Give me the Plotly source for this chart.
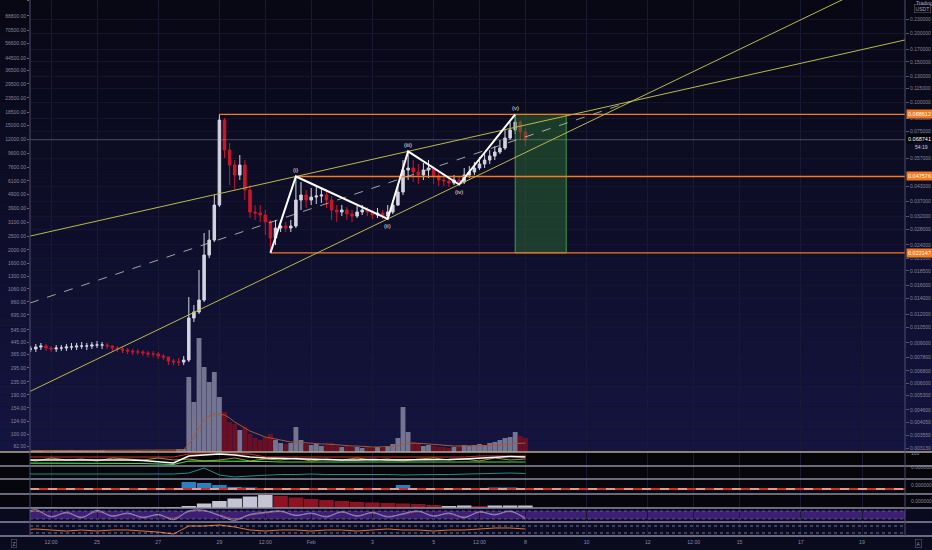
import numpy as np
import pandas as pd
import plotly.graph_objects as go

# ---------------- data ----------------
candle_start = "2021-01-22 20:00"   # 4h candles

close = [0.00846, 0.00863, 0.00871, 0.00854, 0.00846, 0.00854, 0.00854, 0.00863, 0.00863, 0.00871,
         0.00871, 0.00871, 0.00880, 0.00880, 0.00880, 0.00871, 0.00854, 0.00846, 0.00837, 0.00829,
         0.00821, 0.00821, 0.00812, 0.00804, 0.00804, 0.00788, 0.00780, 0.00750, 0.00742, 0.00742,
         0.00757, 0.01153, 0.01225, 0.01381, 0.02167, 0.02518, 0.03575, 0.08371, 0.06201, 0.05336,
         0.04828, 0.05336, 0.04154, 0.03334, 0.03300, 0.03235, 0.03016, 0.02569, 0.02840, 0.02897,
         0.02840, 0.02897, 0.03758, 0.03951, 0.03758, 0.03873, 0.03912, 0.03951, 0.03758, 0.03401,
         0.03334, 0.03401, 0.03267, 0.03203, 0.03334, 0.03401, 0.03334, 0.03235, 0.03300, 0.03203,
         0.03334, 0.03575, 0.04072, 0.05076, 0.05178, 0.04975, 0.04828, 0.05076, 0.05178, 0.04780,
         0.04592, 0.04546, 0.04456, 0.04592, 0.04501, 0.04828, 0.04975, 0.05178, 0.05390, 0.05610,
         0.05840, 0.06078, 0.06326, 0.06992, 0.07575, 0.08205, 0.07425, 0.068741]

high = [0.00871, 0.00889, 0.00898, 0.00889, 0.00871, 0.00880, 0.00880, 0.00889, 0.00898, 0.00898,
        0.00907, 0.00898, 0.00907, 0.00916, 0.00907, 0.00898, 0.00880, 0.00871, 0.00863, 0.00854,
        0.00846, 0.00846, 0.00837, 0.00829, 0.00829, 0.00821, 0.00804, 0.00780, 0.00765, 0.00773,
        0.00788, 0.01423, 0.01314, 0.01865, 0.02701, 0.02783, 0.03951, 0.088612, 0.08541, 0.06651,
        0.05610, 0.05898, 0.05610, 0.04367, 0.03575, 0.03575, 0.03401, 0.03077, 0.03077, 0.03077,
        0.03016, 0.03077, 0.047576, 0.04501, 0.04154, 0.04238, 0.04324, 0.04238, 0.04154, 0.03912,
        0.03575, 0.03575, 0.03505, 0.03401, 0.03540, 0.03575, 0.03505, 0.03401, 0.03470, 0.03401,
        0.03575, 0.03758, 0.04367, 0.05610, 0.06140, 0.05610, 0.05390, 0.05444, 0.05610, 0.05283,
        0.04975, 0.04828, 0.04780, 0.04828, 0.04780, 0.05178, 0.05283, 0.05499, 0.05781, 0.05958,
        0.06201, 0.06454, 0.06854, 0.07575, 0.08205, 0.088612, 0.08371, 0.07728]

low = [0.00821, 0.00821, 0.00837, 0.00829, 0.00821, 0.00821, 0.00829, 0.00829, 0.00837, 0.00837,
       0.00846, 0.00837, 0.00846, 0.00854, 0.00846, 0.00846, 0.00829, 0.00821, 0.00812, 0.00804,
       0.00796, 0.00796, 0.00788, 0.00780, 0.00780, 0.00765, 0.00757, 0.00720, 0.00720, 0.00713,
       0.00720, 0.00742, 0.01108, 0.01201, 0.01353, 0.02103, 0.02468, 0.03505, 0.05724, 0.04367,
       0.04154, 0.04592, 0.03758, 0.03140, 0.03077, 0.03016, 0.02647, 0.022147, 0.02395, 0.02728,
       0.02728, 0.02728, 0.02840, 0.03401, 0.03470, 0.03575, 0.03611, 0.03648, 0.03470, 0.03077,
       0.03016, 0.03203, 0.03077, 0.03016, 0.03140, 0.03235, 0.03203, 0.03108, 0.03140, 0.03108,
       0.03108, 0.03267, 0.03540, 0.03951, 0.04592, 0.04501, 0.04411, 0.04592, 0.04685, 0.04411,
       0.04324, 0.04324, 0.04281, 0.04367, 0.04390, 0.04411, 0.04685, 0.04828, 0.05076, 0.05178,
       0.05390, 0.05610, 0.05958, 0.06201, 0.06854, 0.07278, 0.06854, 0.06454]

volume = [1, 1, 1, 2, 1, 1, 1, 1, 2, 1, 1, 1, 1, 1, 2, 1, 1, 1, 1, 1, 2, 1, 1, 1, 1, 2, 1, 2, 2, 3, 3,
          75, 50, 114, 85, 70, 80, 55, 40, 30, 28,
          22, 25, 18, 14, 12, 15, 18, 12, 9, 8,
          9, 25, 12, 8, 7, 8, 6, 7, 9, 6,
          5, 6, 5, 5, 4, 5, 4, 5, 4, 6,
          8, 14, 45, 20, 10, 8, 6, 7, 6, 5,
          5, 4, 5, 6, 7, 6, 7, 8, 7, 9,
          10, 12, 14, 15, 20, 16, 14]

volume_ma = [1.4, 1.5, 1.5, 1.6, 1.5, 1.5, 1.4, 1.5, 1.6, 1.5, 1.5, 1.5, 1.4, 1.5, 1.6, 1.5,
             1.5, 1.4, 1.5, 1.5, 1.6, 1.5, 1.5, 1.4, 1.5, 1.6, 1.5, 1.7, 1.8, 2.0, 2.2,
             8, 15, 25, 32, 36, 38, 38, 37, 34, 30,
             27, 24, 21, 19, 17, 15, 14, 13, 12, 11,
             10, 10, 9.5, 9, 9, 8.5, 8, 8, 7.5, 7,
             7, 6.5, 6, 6, 5.5, 5, 5, 5, 5, 5,
             5.5, 6, 8, 9, 9, 9, 8.5, 8, 7.5, 7,
             6.5, 6, 6, 6, 6, 6, 6, 6, 6, 6.5,
             7, 7, 7.5, 8, 8.5, 9, 9]

wave_labels = ["", "(i)", "(ii)", "(iii)", "(iv)", "(v)"]
wave_dates = ["2021-01-30 16:00", "2021-01-31 12:00", "2021-02-03 12:00",
              "2021-02-04 04:00", "2021-02-05 20:00", "2021-02-07 16:00"]
wave_prices = [0.022147, 0.047576, 0.0311, 0.0612, 0.0439, 0.088612]

level_prices = [0.088612, 0.047576, 0.022147]
level_starts = ["2021-01-29 00:00", "2021-01-31 12:00", "2021-01-30 16:00"]
target_box_end = "2021-02-09 08:00"
dash_start_price = 0.0134
last_price_text = "0.068741"
countdown_text = "54:19"

x_view = ["2021-01-22 19:27", "2021-02-20 09:43"]
x_tick_dates = ["2021-01-23 12:00", "2021-01-25", "2021-01-27", "2021-01-29", "2021-01-30 12:00",
                "2021-02-01", "2021-02-03", "2021-02-05", "2021-02-06 12:00", "2021-02-08",
                "2021-02-10", "2021-02-12", "2021-02-13 12:00", "2021-02-15", "2021-02-17", "2021-02-19"]
x_tick_text = ["12:00", "25", "27", "29", "12:00", "Feb", "3", "5", "12:00", "8",
               "10", "12", "12:00", "15", "17", "19"]

right_ticks = [0.23, 0.2, 0.17, 0.15, 0.13, 0.115, 0.1, 0.085, 0.075, 0.057, 0.043,
               0.037, 0.032, 0.028, 0.024, 0.021, 0.0185, 0.016, 0.014, 0.012, 0.0105, 0.009,
               0.0078, 0.0068, 0.006, 0.0053, 0.0046, 0.00405, 0.00355, 0.00313]
right_view = [0.003015, 0.2785]
left_ticks = [113000, 88800, 70500, 56600, 44500, 36500, 29500, 23500, 18500, 15000, 12000,
              9600, 7600, 6100, 4900, 3900, 3100, 2500, 2000, 1600, 1300, 1060, 860, 695, 545,
              445, 365, 295, 235, 190, 154, 124, 100, 82]
left_view = [75.3, 114800]

# indicator panes, 12h steps
sub_start = "2021-01-22 12:00"
p1_white = [6, 6, 6.5, 6, 6, 6.5, 6, 6, 5.5, 4, 3, 10, 11, 12, 11, 9, 8, 7.5, 7, 6.5,
            6, 6, 6, 6.5, 6, 6, 6, 6, 6.5, 7, 8, 9, 9.5, 9]
p1_green = [3, 3, 3, 3, 3, 3, 3, 3, 2.5, 2, 1.5, 5, 5, 5, 5, 4.5, 4.5, 4, 4, 4,
            4, 4, 4, 4, 4, 4, 4, 4, 4, 4, 4, 4, 4, 4]
p1_gold = [7, 5, 8, 6, 7, 5, 8, 7, 6, 8, 6, 7, 5, 6, 8, 5, 7, 6, 8, 5,
           7, 6, 8, 6, 7, 5, 7, 8, 6, 7, 5, 8, 6, 7]
p1_red = [9, 9, 9, 9, 9, 9, 9, 9, 9, 9, 9, 12, 12, 12, 12, 12, 9, 9, 9, 9,
          9, 9, 9, 9, 9, 9, 9, 9, 9, 9, 10, 10, 10, 10]
p2_teal = [5, 5, 5, 5, 5, 5, 5, 5, 5, 5, 5, 6, 11, 4, 2, 3, 4, 4.5, 4.5, 5,
           4.5, 4.5, 5, 4.5, 4.5, 4, 4.5, 4.5, 4.5, 5, 5, 5.5, 6, 5.5]
p3_hist = [0.3, 0.2, 0.3, 0.2, 0.3, 0.3, 0.2, 0.3, 0.2, 0.3, 0.4, 7, 6, 4, 2, 1.5, 1, 1, 0.8,
           0.5, 0.6, 0.5, 0.4, 0.5, 0.6, 4, 1, 0.5, 0.6, 0.5, 1, 1.5, 1.5, 1]
p4_hist = [0.5, 0.5, 0.6, 0.5, 0.5, 0.6, 0.5, 0.5, 0.6, 0.8, 1, 2, 4.5, 7, 9.5, 11.5, 13,
           -12, -10.5, -9, -8, -7, -6, -5.5, -5, -4.5, -4, -3, 2, 2.5, -2, 2.5, 2.5, 2.5]
p5_osc = [50, 90, 35, 70, 30, 85, 40, 65, 30, 55, 15, 80, 85, 45, 10, 55, 70, 80, 45, 65,
          35, 75, 40, 70, 35, 60, 80, 40, 65, 30, 75, 50, 80, 20]
p5_sig = [45, 80, 40, 65, 35, 75, 45, 60, 35, 50, 25, 75, 80, 50, 20, 50, 65, 75, 50, 60,
          40, 70, 45, 65, 40, 55, 75, 45, 60, 35, 70, 55, 75, 30]
p6_line = [6, 7, 6, 5, 6, 5, 6, 6, 5, 4, 2, 10, 10, 11, 9, 6, 5, 6, 6, 5,
           6, 6, 5, 6, 7, 6, 6, 5, 6, 6, 7, 8, 8, 7]

# ---------------- derived ----------------
dates = pd.date_range(candle_start, periods=len(close), freq="4h")
opens = [close[0]] + close[:-1]
sub_dates = pd.date_range(sub_start, periods=len(p1_white), freq="12h")

def tnum(s):
    return pd.Timestamp(s).value / 8.64e13

def tdate(d):
    return pd.Timestamp(int(d * 8.64e13))

def line_through(i, j):
    t1, t2 = tnum(wave_dates[i]), tnum(wave_dates[j])
    l1, l2 = np.log10(wave_prices[i]), np.log10(wave_prices[j])
    m = (l2 - l1) / (t2 - t1)
    return m, l1 - m * t1

xl, xr = tnum(x_view[0]), tnum(x_view[1])
mu, bu = line_through(1, 3)
ml, bl = line_through(2, 4)
apex_t = (bl - bu) / (mu - ml)
apex_l = mu * apex_t + bu

# ---------------- geometry of the page ----------------
W, H = 932, 550
ML, MR, MT, MB = 30, 27, 0, 14
PH = H - MT - MB          # 536
PW = W - ML - MR
seps = [452, 466, 479, 494, 508, 522, 536]

def py(px):
    return (PH - px) / PH

domains = [[py(452), 1.0]] + [[py(seps[i + 1]), py(seps[i])] for i in range(6)]

FONT = "Liberation Sans"
UP, DOWN = "#d4d4e0", "#c8182c"
YEL = "#b9b94e"
ORG = "#f47b20"

fig = go.Figure()

# volume
vcol = ["rgba(150,150,175,0.75)" if c >= o else "rgba(120,14,34,0.85)" for c, o in zip(close, opens)]
fig.add_trace(go.Bar(x=dates, y=volume, marker=dict(color=vcol, line=dict(width=0)),
                     xaxis="x", yaxis="y3", hoverinfo="skip", showlegend=False))
fig.add_trace(go.Scatter(x=dates, y=volume_ma, mode="lines", line=dict(color="#a8582f", width=1),
                         xaxis="x", yaxis="y3", hoverinfo="skip", showlegend=False))

# left scale carrier (invisible)
fig.add_trace(go.Scatter(x=[dates[0]], y=[left_ticks[0]], mode="markers", marker=dict(opacity=0),
                         xaxis="x", yaxis="y2", hoverinfo="skip", showlegend=False))

# target box
bx = [wave_dates[5], target_box_end, target_box_end, wave_dates[5], wave_dates[5]]
by = [level_prices[0], level_prices[0], level_prices[2], level_prices[2], level_prices[0]]
fig.add_trace(go.Scatter(x=bx, y=by, fill="toself", fillcolor="rgba(46,120,52,0.45)",
                         mode="lines", line=dict(color="#3f9c45", width=1),
                         xaxis="x", yaxis="y", hoverinfo="skip", showlegend=False))

# current price line
fig.add_trace(go.Scatter(x=[tdate(xl), tdate(xr)], y=[close[-1], close[-1]], mode="lines",
                         line=dict(color="rgba(175,175,195,0.5)", width=0.8),
                         xaxis="x", yaxis="y", hoverinfo="skip", showlegend=False))

# horizontal levels
for p, s in zip(level_prices, level_starts):
    fig.add_trace(go.Scatter(x=[s, tdate(xr)], y=[p, p], mode="lines",
                             line=dict(color=ORG, width=1.4),
                             xaxis="x", yaxis="y", hoverinfo="skip", showlegend=False))

# trend lines
fig.add_trace(go.Scatter(x=[tdate(xl), tdate(xr)], y=[10 ** (mu * xl + bu), 10 ** (mu * xr + bu)],
                         mode="lines", line=dict(color=YEL, width=1),
                         xaxis="x", yaxis="y", hoverinfo="skip", showlegend=False))
fig.add_trace(go.Scatter(x=[tdate(xl), tdate(xr)], y=[10 ** (ml * xl + bl), 10 ** (ml * xr + bl)],
                         mode="lines", line=dict(color=YEL, width=1),
                         xaxis="x", yaxis="y", hoverinfo="skip", showlegend=False))
fig.add_trace(go.Scatter(x=[tdate(xl), tdate(apex_t)], y=[dash_start_price, 10 ** apex_l],
                         mode="lines", line=dict(color="rgba(200,200,190,0.8)", width=1, dash="dash"),
                         xaxis="x", yaxis="y", hoverinfo="skip", showlegend=False))

# candles
fig.add_trace(go.Candlestick(x=dates, open=opens, high=high, low=low, close=close,
                             increasing=dict(line=dict(color=UP, width=1), fillcolor=UP),
                             decreasing=dict(line=dict(color=DOWN, width=1), fillcolor=DOWN),
                             whiskerwidth=0, xaxis="x", yaxis="y", hoverinfo="skip",
                             showlegend=False))

# wave
fig.add_trace(go.Scatter(x=wave_dates, y=wave_prices, mode="lines",
                         line=dict(color="#ffffff", width=2),
                         xaxis="x", yaxis="y", hoverinfo="skip", showlegend=False))

# ---- pane 1
for ser, col, w in [(p1_red, "#d0302a", 1), (p1_green, "#3fd84a", 1.2), (p1_gold, "#d6b23a", 0.8),
                    (p1_white, "#ffffff", 1.4)]:
    fig.add_trace(go.Scatter(x=sub_dates, y=ser, mode="lines", line=dict(color=col, width=w),
                             xaxis="x", yaxis="y4", hoverinfo="skip", showlegend=False))
# ---- pane 2
fig.add_trace(go.Scatter(x=sub_dates, y=p2_teal, mode="lines", line=dict(color="#1f8f8a", width=1),
                         xaxis="x", yaxis="y5", hoverinfo="skip", showlegend=False))
# ---- pane 3
fig.add_trace(go.Bar(x=sub_dates, y=p3_hist, base=5, marker=dict(color="#2a7fbf", line=dict(width=0)),
                     xaxis="x", yaxis="y6", hoverinfo="skip", showlegend=False))
# ---- pane 4
p4col = ["#c4c4d2" if v >= 0 else "#8e1222" for v in p4_hist]
fig.add_trace(go.Bar(x=sub_dates, y=[abs(v) for v in p4_hist], marker=dict(color=p4col, line=dict(width=0)),
                     xaxis="x", yaxis="y7", hoverinfo="skip", showlegend=False))
# ---- pane 5
fig.add_trace(go.Scatter(x=sub_dates, y=p5_sig, mode="lines", line=dict(color="#c9772e", width=0.8, shape="spline"),
                         xaxis="x", yaxis="y8", hoverinfo="skip", showlegend=False))
fig.add_trace(go.Scatter(x=sub_dates, y=p5_osc, mode="lines", line=dict(color="#7d86e6", width=1, shape="spline"),
                         xaxis="x", yaxis="y8", hoverinfo="skip", showlegend=False))
# ---- pane 6
fig.add_trace(go.Scatter(x=sub_dates, y=p6_line, mode="lines", line=dict(color="#e0782a", width=1),
                         xaxis="x", yaxis="y9", hoverinfo="skip", showlegend=False))

# ---------------- shapes ----------------
shapes = []
x0p, x1p = -ML / PW, 1 + MR / PW
# main pane vertical gradient
nb = 40
c0, c1 = np.array([8, 8, 20]), np.array([21, 21, 66])
for i in range(nb):
    f = (i + 0.5) / nb
    c = (c0 + (c1 - c0) * f).astype(int)
    shapes.append(dict(type="rect", xref="paper", yref="paper", x0=x0p, x1=x1p,
                       y0=py(452 * (i + 1) / nb), y1=py(452 * i / nb),
                       fillcolor=f"rgb({c[0]},{c[1]},{c[2]})", line=dict(width=0), layer="below"))
pane_bg = ["#050509", "#05050a", "#06060d", "#05050b", "#0a0a1f", "#0b0b26"]
for i in range(6):
    shapes.append(dict(type="rect", xref="paper", yref="paper", x0=x0p, x1=x1p,
                       y0=py(seps[i + 1]), y1=py(seps[i]), fillcolor=pane_bg[i],
                       line=dict(width=0), layer="below"))
# pane 5 band
shapes.append(dict(type="rect", xref="paper", yref="y8", x0=0, x1=1, y0=20, y1=80,
                   fillcolor="rgba(105,50,190,0.55)", line=dict(width=0), layer="below"))
for lv in (20, 80):
    shapes.append(dict(type="line", xref="paper", yref="y8", x0=0, x1=1, y0=lv, y1=lv,
                       line=dict(color="rgba(200,190,230,0.45)", width=0.8, dash="dot")))
# pane 3 zero line
shapes.append(dict(type="line", xref="paper", yref="y6", x0=0, x1=1, y0=5, y1=5,
                   line=dict(color="#d42a2a", width=2)))
shapes.append(dict(type="line", xref="paper", yref="y6", x0=0, x1=1, y0=5, y1=5,
                   line=dict(color="#ffffff", width=1.2, dash="dash")))
# pane 6 dotted levels
for lv in (3, 10):
    shapes.append(dict(type="line", xref="paper", yref="y9", x0=0, x1=1, y0=lv, y1=lv,
                       line=dict(color="rgba(210,210,230,0.6)", width=0.9, dash="dot")))
# separators
for i, s in enumerate(seps):
    col = "#b8a890" if i == 0 else "#8c8ca0"
    shapes.append(dict(type="line", xref="paper", yref="paper", x0=x0p, x1=x1p, y0=py(s), y1=py(s),
                       line=dict(color=col, width=1.3)))
# axis lines
for xv in (0, 1):
    shapes.append(dict(type="line", xref="paper", yref="paper", x0=xv, x1=xv, y0=0, y1=1,
                       line=dict(color="#4e4e6e", width=1)))

# ---------------- annotations ----------------
ann = []
for lab, d, p in zip(wave_labels, wave_dates, wave_prices):
    if not lab:
        continue
    up = lab in ("(i)", "(iii)", "(v)")
    ann.append(dict(x=d, y=np.log10(p), xref="x", yref="y", text=lab, showarrow=False,
                    yshift=6 if up else -7, font=dict(size=6, color="#e4e4ea", family=FONT)))
for p in level_prices:
    ann.append(dict(x=1, y=np.log10(p), xref="paper", yref="y", text=f"{p:.6f}", showarrow=False,
                    xanchor="left", xshift=1, bgcolor=ORG, borderpad=1,
                    font=dict(size=5.5, color="#ffffff", family=FONT)))
ann.append(dict(x=1, y=np.log10(close[-1]), xref="paper", yref="y", text=last_price_text, showarrow=False,
                xanchor="left", xshift=1, yshift=1, bgcolor="#000000", borderpad=1,
                font=dict(size=5.5, color="#ffffff", family=FONT)))
ann.append(dict(x=1, y=np.log10(close[-1]), xref="paper", yref="y", text=countdown_text, showarrow=False,
                xanchor="left", xshift=8, yshift=-7, bgcolor="#0e0e26",
                font=dict(size=5, color="#d0d0d8", family=FONT)))
ann.append(dict(x=1, y=1, xref="paper", yref="paper", text="USDT", showarrow=False,
                xanchor="left", yanchor="top", xshift=9, yshift=-4, bordercolor="#5a5a74",
                borderwidth=0.6, borderpad=1, font=dict(size=5, color="#a0a0b4", family=FONT)))
ann.append(dict(x=1, y=1, xref="paper", yref="paper", text="Trading", showarrow=False,
                xanchor="left", yanchor="top", xshift=9, yshift=2,
                font=dict(size=5, color="#a0a0b4", family=FONT)))
for px, txt in [(458, "100"), (472, "0.000000"), (490, "0.000000"), (506, "0.000000")]:
    ann.append(dict(x=1, y=py(px), xref="paper", yref="paper", text=txt, showarrow=False,
                    xanchor="left", xshift=4, font=dict(size=5, color="#8a8aa0", family=FONT)))
ann.append(dict(x=0, y=0, xref="paper", yref="paper", text="Z", showarrow=False, xanchor="center",
                yanchor="top", xshift=-16, yshift=-3, bordercolor="#55556e", borderwidth=0.6, borderpad=1,
                font=dict(size=5, color="#8a8aa0", family=FONT)))
ann.append(dict(x=1, y=0, xref="paper", yref="paper", text="A", showarrow=False, xanchor="center",
                yanchor="top", xshift=13, yshift=-3, bordercolor="#55556e", borderwidth=0.6, borderpad=1,
                font=dict(size=5, color="#8a8aa0", family=FONT)))

# ---------------- layout ----------------
tickfont = dict(size=5.2, color="#8a8aa2", family=FONT)
sub_axis = dict(anchor="x", showticklabels=False, showgrid=False, zeroline=False, showline=False,
                ticks="", automargin=False, fixedrange=True)
layout = dict(
    template="none", width=W, height=H,
    margin=dict(l=ML, r=MR, t=MT, b=MB, pad=0),
    paper_bgcolor="#0b0b20", plot_bgcolor="rgba(0,0,0,0)",
    showlegend=False, hovermode=False, bargap=0.05, barmode="overlay",
    xaxis=dict(type="date", range=x_view, domain=[0, 1], anchor="y9",
               tickvals=x_tick_dates, ticktext=x_tick_text, tickfont=tickfont, ticks="",
               ticklabelstandoff=2, showgrid=True, gridcolor="#191936", gridwidth=1,
               zeroline=False, showline=False, automargin=False, rangeslider=dict(visible=False)),
    yaxis=dict(type="log", domain=domains[0], range=[np.log10(right_view[0]), np.log10(right_view[1])],
               side="right", anchor="x", tickvals=right_ticks, ticktext=[f"{v:.6f}" for v in right_ticks],
               tickfont=dict(size=5, color="#85859c", family=FONT), ticks="outside", ticklen=3,
               tickcolor="#55556e", showgrid=True, gridcolor="#15152e", gridwidth=1, zeroline=False,
               showline=False, automargin=False),
    yaxis2=dict(type="log", overlaying="y", side="left", anchor="x",
                range=[np.log10(left_view[0]), np.log10(left_view[1])],
                tickvals=left_ticks, ticktext=[f"{v:.2f}" for v in left_ticks],
                tickfont=dict(size=5, color="#85859c", family=FONT), ticks="outside", ticklen=2,
                tickcolor="#66667e", showgrid=False, zeroline=False, showline=False, automargin=False),
    yaxis3=dict(overlaying="y", range=[0, 452], visible=False, anchor="x"),
    shapes=shapes, annotations=ann,
)
ranges = [[0, 14], [0, 13], [0, 15], [0, 14], [-2, 102], [0, 14]]
for i in range(6):
    ax = dict(sub_axis)
    ax.update(domain=domains[i + 1], range=ranges[i])
    layout[f"yaxis{i + 4}"] = ax

fig.update_layout(**layout)
fig.write_html("out.html", config={"displayModeBar": False, "staticPlot": True},
               post_script="document.body.style.margin='0';document.body.style.overflow='hidden';"
                           "document.body.style.background='#0b0b20';")
